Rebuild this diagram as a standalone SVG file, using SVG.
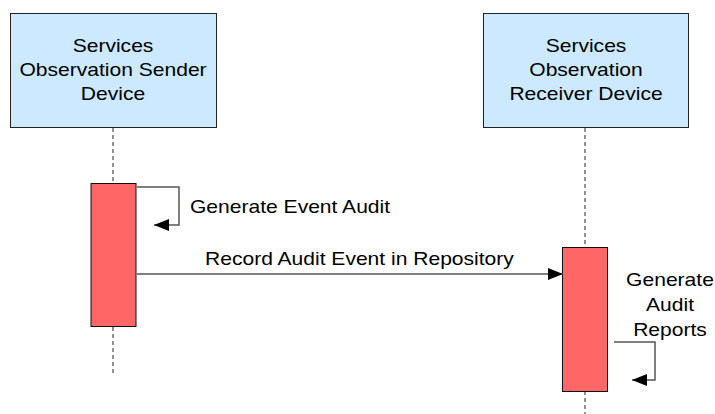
<svg xmlns="http://www.w3.org/2000/svg" width="715" height="414" viewBox="0 0 715 414">
<style>
.lbl{font-family:"Liberation Sans",Arial,sans-serif;font-size:18px;fill:#000}
.mid{text-anchor:middle}
.box{fill:#cce9ff;stroke:#222;stroke-width:1}
.bar{fill:#ff6666;stroke:#111;stroke-width:1}
.life{stroke:#777;stroke-width:1.6;stroke-dasharray:4 3;fill:none}
.msg{stroke:#555;stroke-width:1.5;fill:none;marker-end:url(#ah)}
</style>
<defs>
<marker id="ah" markerUnits="userSpaceOnUse" markerWidth="16" markerHeight="14" refX="15" refY="7" orient="auto">
<path d="M0,1 L15,7 L0,13 Z" fill="#000"/>
</marker>
</defs>
<g id="sender">
<rect class="box" x="10.5" y="13.5" width="206" height="114"/>
<text class="lbl mid" transform="matrix(1.17 0 0 1 113 51.5)">Services</text>
<text class="lbl mid" transform="matrix(1.17 0 0 1 113 75.5)">Observation Sender</text>
<text class="lbl mid" transform="matrix(1.17 0 0 1 113 100)">Device</text>
</g>
<g id="receiver">
<rect class="box" x="483.5" y="13.5" width="205" height="114"/>
<text class="lbl mid" transform="matrix(1.17 0 0 1 586 51.5)">Services</text>
<text class="lbl mid" transform="matrix(1.17 0 0 1 586 75.5)">Observation</text>
<text class="lbl mid" transform="matrix(1.17 0 0 1 586 100)">Receiver Device</text>
</g>
<g id="lifelines">
<path class="life" d="M113,128 V183 M113,327 V376"/>
<path class="life" d="M585,128 V247 M585,391 V414"/>
</g>
<g id="sender-activation">
<rect class="bar" x="91" y="183.5" width="45" height="143"/>
</g>
<g id="receiver-activation">
<rect class="bar" x="562.5" y="247.5" width="45" height="144"/>
</g>
<g id="connectors">
<path class="msg" d="M137,187 H179 V225 H154"/>
<path class="msg" d="M137,274 H563"/>
<path class="msg" d="M614,342 H655 V380 H632"/>
</g>
<g id="labels">
<text class="lbl" transform="matrix(1.17 0 0 1 190 213)">Generate Event Audit</text>
<text class="lbl" transform="matrix(1.17 0 0 1 205 265)">Record Audit Event in Repository</text>
<text class="lbl mid" transform="matrix(1.17 0 0 1 670 286)">Generate</text>
<text class="lbl mid" transform="matrix(1.17 0 0 1 670 311)">Audit</text>
<text class="lbl mid" transform="matrix(1.17 0 0 1 670 336)">Reports</text>
</g>
</svg>
